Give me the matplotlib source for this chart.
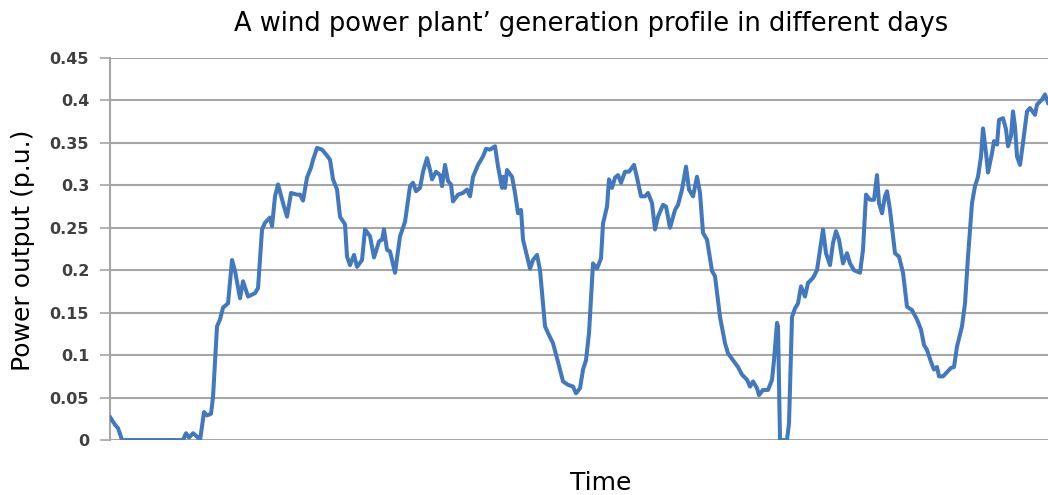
import matplotlib
matplotlib.use("Agg")
import matplotlib.pyplot as plt

# sample index (time) and power output (p.u.), in four stretches
t1 = [0, 5, 8, 12, 73, 76, 79, 83, 87, 90, 94, 97, 101, 103, 107, 110, 113, 118,
      122, 125, 130, 133, 138, 145, 148, 152, 155, 160, 162, 165, 168, 173, 177,
      181, 187, 190, 193, 197, 199, 201, 203, 207, 212, 217, 220]
p1 = [0.027, 0.018, 0.014, 0.0, 0.0, 0.008, 0.003, 0.008, 0.004, 0.0, 0.033,
      0.029, 0.031, 0.051, 0.134, 0.142, 0.156, 0.161, 0.212, 0.199, 0.167,
      0.187, 0.169, 0.173, 0.179, 0.248, 0.256, 0.262, 0.252, 0.287, 0.301,
      0.279, 0.263, 0.291, 0.289, 0.289, 0.282, 0.309, 0.315, 0.321, 0.330,
      0.344, 0.342, 0.335, 0.330]

t2 = [223, 227, 230, 235, 237, 240, 244, 247, 252, 255, 260, 264, 269, 272, 274,
      277, 280, 285, 290, 295, 300, 303, 306, 310, 313, 317, 320, 322, 326, 330,
      332, 335, 338, 341, 343, 348, 353, 357, 360, 363, 368, 373, 376, 380, 385,
      388, 392, 393, 395, 397, 402, 405, 408, 411, 413, 420, 423, 427, 430, 435,
      438, 443, 448]
p2 = [0.307, 0.295, 0.263, 0.254, 0.216, 0.206, 0.218, 0.204, 0.212, 0.248,
      0.240, 0.215, 0.234, 0.236, 0.248, 0.224, 0.222, 0.197, 0.240, 0.257,
      0.299, 0.303, 0.293, 0.297, 0.316, 0.332, 0.318, 0.307, 0.316, 0.312,
      0.299, 0.324, 0.305, 0.301, 0.281, 0.289, 0.291, 0.295, 0.287, 0.310,
      0.324, 0.334, 0.343, 0.342, 0.346, 0.322, 0.297, 0.310, 0.297, 0.318,
      0.310, 0.291, 0.267, 0.271, 0.236, 0.202, 0.212, 0.218, 0.200, 0.134,
      0.126, 0.114, 0.092]

t3 = [453, 458, 463, 466, 470, 473, 476, 479, 483, 487, 491, 493, 497, 499, 502,
      505, 508, 511, 515, 519, 524, 527, 531, 535, 538, 542, 545, 548, 553, 556,
      560, 565, 568, 572, 576, 579, 583, 587, 590, 593, 597, 602, 605, 610, 615,
      618, 623, 628, 632, 637, 640, 643, 647, 649, 653, 658, 662, 664, 667, 668,
      670, 677, 679]
p3 = [0.069, 0.065, 0.063, 0.055, 0.061, 0.083, 0.094, 0.126, 0.208, 0.202,
      0.214, 0.255, 0.275, 0.307, 0.297, 0.309, 0.312, 0.303, 0.316, 0.316,
      0.324, 0.309, 0.287, 0.287, 0.291, 0.279, 0.248, 0.263, 0.277, 0.275,
      0.250, 0.271, 0.277, 0.295, 0.322, 0.295, 0.287, 0.310, 0.291, 0.244,
      0.236, 0.199, 0.193, 0.145, 0.114, 0.102, 0.094, 0.086, 0.077, 0.071,
      0.063, 0.069, 0.061, 0.053, 0.059, 0.059, 0.071, 0.094, 0.138, 0.134,
      0.0, 0.0, 0.020]

t4 = [682, 685, 688, 691, 695, 698, 703, 707, 710, 713, 716, 720, 723, 726, 729,
      733, 737, 740, 744, 750, 753, 756, 760, 764, 767, 769, 772, 775, 777, 780,
      783, 785, 789, 793, 797, 802, 807, 811, 814, 817, 821, 824, 827, 829, 833,
      837, 841, 844, 847, 852, 855, 858, 862, 865, 868, 871, 873, 876, 878, 882,
      884, 887, 889, 893, 896, 898, 901, 903, 905, 907, 910, 913, 917, 920, 925,
      927, 932, 935, 938]
p4 = [0.145, 0.155, 0.161, 0.181, 0.169, 0.185, 0.191, 0.200, 0.224, 0.248,
      0.220, 0.206, 0.232, 0.246, 0.236, 0.208, 0.220, 0.208, 0.200, 0.197,
      0.224, 0.289, 0.283, 0.283, 0.312, 0.279, 0.267, 0.287, 0.293, 0.271,
      0.240, 0.220, 0.216, 0.197, 0.157, 0.153, 0.142, 0.130, 0.112, 0.106,
      0.092, 0.083, 0.086, 0.075, 0.075, 0.080, 0.085, 0.086, 0.110, 0.134,
      0.161, 0.216, 0.279, 0.299, 0.310, 0.334, 0.367, 0.338, 0.315, 0.338,
      0.352, 0.348, 0.377, 0.379, 0.366, 0.346, 0.358, 0.387, 0.369, 0.334,
      0.324, 0.350, 0.387, 0.391, 0.383, 0.395, 0.401, 0.407, 0.397]

yticks = [0, 0.05, 0.1, 0.15, 0.2, 0.25, 0.3, 0.35, 0.4, 0.45]
ylabels = ["0", "0.05", "0.1", "0.15", "0.2", "0.25", "0.3", "0.35", "0.4", "0.45"]

t = t1 + t2 + t3 + t4
power = p1 + p2 + p3 + p4

fig = plt.figure(figsize=(10.48, 4.95), dpi=100)
ax = fig.add_axes([0.105, 0.111, 0.895, 0.772])

ax.plot(t, power, color="#4178be", linewidth=2.9, solid_joinstyle="round", zorder=3)

ax.set_xlim(0, 938)
ax.set_ylim(0, 0.45)
ax.set_yticks(yticks)
ax.set_yticklabels(ylabels, fontsize=11.5, fontweight="bold", color="#404040")
ax.set_xticks([])
ax.grid(axis="y", color="#a6a6a6", linewidth=1.5)
ax.set_axisbelow(True)
ax.tick_params(axis="y", length=7, width=1.2, color="#a6a6a6", pad=8)

for s in ["top", "right", "bottom"]:
    ax.spines[s].set_visible(False)
ax.spines["left"].set_color("#a6a6a6")
ax.spines["left"].set_linewidth(1.5)

fig.text(0.022, 0.495, "Power output (p.u.)", fontsize=18, rotation=90,
         ha="center", va="center")
fig.text(0.573, 0.024, "Time", fontsize=18, ha="center", va="center")
fig.text(0.564, 0.952, "A wind power plant\u2019 generation profile in different days",
         fontsize=18.5, ha="center", va="center")

plt.savefig("out.png")
